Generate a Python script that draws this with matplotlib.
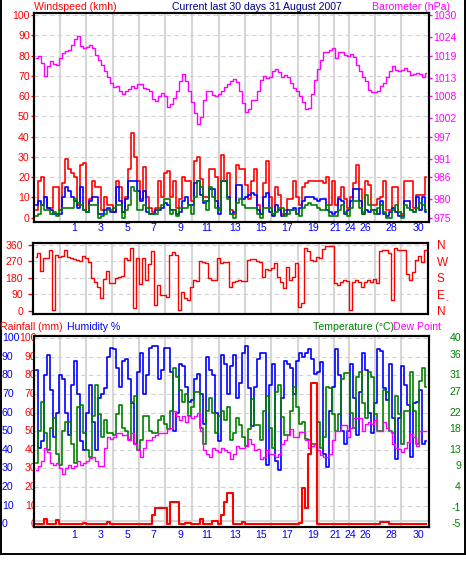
import numpy as np
import matplotlib.pyplot as plt
from matplotlib import transforms
from matplotlib.lines import Line2D

plt.rcParams['font.family'] = ['Liberation Sans', 'DejaVu Sans']
plt.rcParams['font.size'] = 7.6

RED, BLUE, GREEN, MAG, NAVY = '#ff0000', '#0000ff', '#008000', '#ff00ff', '#000080'

# ---- data (one sample every ~5.5 hours, 131 samples over the 30 days) ----
day_labels = ['1', '3', '5', '7', '9', '11', '13', '15', '17', '19', '21', '24', '26', '28', '30']
day_pos = [12.6, 21.5, 30.4, 39.2, 48.1, 56.9, 66.3, 75.0, 83.7, 92.5, 99.8, 104.8, 109.9, 118.6, 127.4]
grid_pos = [8.0, 16.6, 25.5, 34.2, 43.0, 51.9, 60.9, 69.6, 78.2, 87.2, 94.3, 99.3, 104.3, 113.0, 121.6]

wind_gust = [4, 18, 20, 10, 5, 5, 15, 15, 4, 17,
             29, 24, 22, 20, 6, 26, 27, 3, 9, 18,
             15, 15, 4, 10, 6, 6, 3, 18, 15, 3,
             10, 24, 42, 30, 18, 9, 25, 10, 5, 3,
             5, 18, 10, 22, 23, 10, 18, 5, 9, 20,
             18, 18, 8, 28, 30, 19, 10, 10, 24, 24,
             20, 5, 31, 18, 22, 4, 2, 26, 24, 24,
             16, 9, 18, 24, 6, 2, 17, 28, 10, 2,
             15, 11, 2, 4, 9, 9, 18, 10, 6, 15,
             17, 18, 18, 18, 18, 18, 17, 20, 6, 18,
             6, 10, 15, 9, 5, 10, 17, 26, 14, 3,
             18, 16, 6, 6, 9, 10, 18, 4, 4, 15,
             15, 3, 2, 18, 18, 18, 5, 11, 11, 11, 20]
wind_avg = [6, 8, 6, 10, 5, 4, 2, 2, 2, 10,
            15, 13, 10, 8, 5, 15, 4, 3, 8, 10,
            10, 2, 2, 4, 5, 3, 3, 15, 8, 3,
            9, 18, 18, 18, 13, 8, 13, 3, 2, 2,
            4, 4, 5, 7, 6, 4, 4, 2, 3, 8,
            10, 6, 6, 17, 18, 11, 7, 8, 14, 14,
            8, 2, 18, 18, 10, 2, 3, 16, 16, 9,
            10, 11, 12, 11, 4, 2, 10, 12, 3, 1,
            6, 4, 1, 2, 4, 4, 5, 2, 5, 8,
            10, 10, 10, 9, 8, 9, 9, 4, 3, 2,
            3, 9, 8, 2, 4, 8, 14, 14, 8, 2,
            4, 3, 4, 4, 2, 8, 2, 1, 3, 5,
            3, 1, 1, 8, 8, 4, 3, 10, 4, 10, 3]
wind_low = [1, 2, 6, 4, 4, 2, 3, 1, 4, 5,
            5, 5, 5, 9, 7, 6, 4, 3, 6, 6,
            6, 0, 1, 2, 4, 4, 5, 6, 6, 0,
            4, 6, 15, 13, 4, 4, 6, 5, 2, 2,
            2, 5, 6, 9, 9, 2, 4, 1, 5, 5,
            5, 6, 2, 10, 18, 15, 8, 4, 15, 10,
            5, 4, 18, 18, 9, 2, 0, 7, 9, 6,
            5, 5, 5, 5, 2, 0, 5, 5, 5, 2,
            3, 5, 5, 1, 2, 4, 4, 2, 1, 5,
            6, 7, 6, 6, 5, 4, 4, 6, 1, 1,
            1, 4, 6, 3, 1, 5, 8, 8, 5, 2,
            11, 6, 4, 2, 5, 6, 3, 0, 0, 4,
            6, 3, 0, 6, 5, 4, 3, 5, 7, 6, 4]
baro = [1018.3, 1018.8, 1017.0, 1013.5, 1016.2, 1017.6, 1016.8, 1016.5, 1018.3, 1019.8,
        1020.1, 1020.4, 1021.9, 1023.4, 1024.3, 1021.5, 1021.1, 1021.4, 1021.8, 1021.0,
        1019.2, 1017.8, 1016.3, 1014.7, 1013.1, 1011.5, 1010.4, 1010.6, 1009.3, 1008.5,
        1009.4, 1010.0, 1010.7, 1010.3, 1011.3, 1011.2, 1010.1, 1009.9, 1009.3, 1007.2,
        1006.6, 1008.1, 1008.7, 1007.9, 1005.1, 1005.8, 1007.4, 1009.5, 1012.2, 1014.0,
        1012.2, 1009.3, 1006.5, 1003.4, 1000.3, 1002.3, 1006.9, 1009.3, 1009.4, 1008.4,
        1008.0, 1008.6, 1009.4, 1010.4, 1011.4, 1012.2, 1012.6, 1011.7, 1009.5, 1006.1,
        1003.6, 1004.5, 1007.0, 1007.0, 1009.4, 1012.3, 1013.5, 1013.0, 1013.3, 1014.8,
        1015.3, 1014.4, 1013.2, 1013.8, 1013.1, 1011.5, 1010.3, 1009.5, 1008.1, 1006.3,
        1004.5, 1004.8, 1008.6, 1012.4, 1015.3, 1017.9, 1020.0, 1019.9, 1020.5, 1021.0,
        1018.2, 1020.0, 1019.9, 1019.1, 1019.0, 1019.3, 1018.7, 1016.3, 1014.7, 1013.1,
        1012.2, 1009.7, 1009.2, 1009.1, 1009.5, 1010.8, 1011.5, 1013.3, 1014.9, 1016.1,
        1015.2, 1014.9, 1015.0, 1015.6, 1014.9, 1013.6, 1013.9, 1014.2, 1014.1, 1013.1, 1014.2]
wind_dir = [293, 315, 220, 287, 287, 333, 5, 305, 296, 300,
            333, 296, 290, 285, 280, 275, 300, 287, 269, 178,
            160, 130, 69, 175, 220, 155, 151, 180, 187, 190,
            287, 280, 342, 15, 287, 147, 287, 169, 255, 329,
            33, 142, 87, 87, 78, 305, 320, 305, 5, 105,
            69, 60, 133, 169, 165, 275, 269, 260, 178, 169,
            170, 287, 260, 265, 269, 133, 160, 165, 169, 165,
            165, 278, 282, 285, 275, 265, 187, 230, 224, 235,
            260, 187, 160, 124, 240, 169, 187, 260, 24, 42,
            342, 325, 280, 275, 296, 290, 340, 355, 355, 355,
            151, 142, 160, 169, 165, 5, 160, 170, 160, 130,
            160, 169, 160, 172, 150, 325, 330, 333, 315, 60,
            342, 335, 330, 330, 200, 169, 215, 278, 300, 269, 333]
humidity = [83, 41, 45, 80, 91, 72, 47, 60, 80, 78,
            60, 48, 75, 88, 70, 45, 40, 60, 75, 55,
            40, 68, 70, 73, 90, 95, 94, 84, 74, 88,
            89, 78, 65, 43, 82, 92, 70, 80, 95, 96,
            96, 78, 83, 95, 95, 82, 50, 60, 86, 85,
            74, 66, 67, 78, 81, 70, 54, 90, 83, 80,
            60, 45, 91, 86, 70, 85, 91, 68, 76, 92,
            96, 73, 53, 74, 89, 92, 92, 32, 75, 86,
            34, 29, 68, 88, 86, 84, 70, 88, 92, 90,
            92, 94, 89, 81, 82, 87, 38, 31, 61, 74,
            94, 80, 50, 43, 50, 86, 68, 48, 71, 92,
            83, 60, 49, 65, 94, 93, 73, 67, 86, 57,
            35, 57, 85, 75, 64, 36, 65, 66, 72, 43, 45]
temperature = [9.9, 17.5, 24.7, 17.1, 13.0, 18.4, 20.7, 12.1, 9.4, 17.5,
               19.8, 19.8, 14.4, 9.9, 23.4, 23.8, 17.1, 13.0, 11.2, 21.1,
               28.8, 21.6, 16.2, 20.2, 17.1, 17.1, 16.6, 21.6, 23.8, 18.4,
               17.5, 15.3, 24.7, 26.1, 13.0, 15.3, 21.1, 21.1, 17.5, 17.1,
               17.1, 20.2, 21.1, 19.3, 18.0, 22.5, 32.8, 30.6, 27.4, 24.7,
               26.5, 21.1, 23.4, 27.0, 27.0, 18.4, 14.4, 22.5, 25.6, 22.0,
               17.1, 21.1, 22.5, 20.2, 23.4, 15.3, 17.1, 20.7, 18.9, 16.2,
               13.9, 18.0, 25.2, 18.9, 18.9, 15.3, 22.5, 26.1, 18.4, 13.5,
               27.0, 28.8, 20.9, 16.6, 16.6, 22.5, 28.3, 23.4, 19.3, 19.8,
               15.7, 15.3, 14.4, 14.4, 19.8, 13.5, 16.2, 28.3, 27.9, 21.6,
               17.5, 21.6, 30.1, 31.5, 31.5, 22.0, 18.4, 30.6, 31.9, 24.3,
               20.7, 31.9, 30.6, 21.6, 17.5, 17.5, 27.4, 27.0, 17.5, 17.1,
               26.1, 21.6, 14.4, 22.5, 22.5, 31.9, 22.5, 14.4, 29.7, 32.8, 28.3]
dew_point = [8.1, 9.0, 10.3, 13.5, 12.6, 9.9, 9.4, 9.9, 8.5, 7.2,
             8.5, 9.4, 8.5, 9.0, 10.3, 9.4, 9.9, 10.3, 11.0, 11.2,
             10.3, 9.0, 9.0, 13.5, 16.2, 15.7, 16.2, 17.1, 17.1, 16.6,
             16.6, 15.3, 17.1, 14.4, 13.0, 11.2, 13.5, 15.3, 15.3, 16.2,
             16.6, 17.1, 17.1, 17.1, 18.0, 18.4, 22.5, 21.1, 20.2, 21.1,
             19.8, 21.1, 20.7, 21.1, 22.0, 17.5, 13.0, 12.1, 11.2, 13.5,
             13.0, 12.6, 13.5, 13.0, 12.6, 10.8, 12.1, 13.9, 13.5, 13.5,
             13.9, 15.7, 14.4, 13.0, 13.2, 10.8, 11.2, 13.0, 12.1, 12.1,
             11.2, 12.1, 14.4, 15.3, 16.6, 18.0, 16.2, 16.2, 17.3, 17.3,
             15.3, 13.5, 13.9, 14.4, 13.0, 11.7, 11.2, 11.2, 12.1, 15.3,
             17.5, 17.5, 18.9, 18.9, 16.2, 18.4, 20.7, 20.7, 20.7, 17.5,
             19.3, 19.8, 19.3, 20.2, 17.5, 17.5, 19.8, 18.4, 17.5, 14.4,
             13.5, 13.2, 12.6, 13.5, 14.8, 16.8, 16.2, 14.0, 17.5, 17.5, 17.5]
rainfall = [0, 0, 0, 2.9, 0, 0, 0, 2.3, 0, 0,
            0, 0, 0, 0, 0, 0, 0.5, 0, 0, 0,
            0, 0, 0, 0, 1.2, 0, 0, 0, 0, 0,
            0, 0, 0, 0, 0, 0, 0, 0, 0, 5,
            8.6, 8.6, 8.6, 8.6, 0, 12, 12, 12, 0.4, 0.4,
            0.5, 0.5, 0, 0, 0, 2.7, 0, 0, 0, 1.8,
            1.8, 0, 5, 12, 17, 17, 0, 0, 0, 1.5,
            0, 0, 0, 0, 0, 0, 0, 0, 0, 0,
            0, 0, 0, 0, 0, 0, 0, 0, 0.5, 19.6,
            9, 38, 76, 76, 0, 0, 0, 0, 0, 0,
            0, 0, 0, 0, 0, 0, 0, 0, 0, 0,
            0, 0, 0, 0, 0, 1, 1, 1, 0, 0,
            0, 0, 0, 0, 0, 0, 0, 0, 0, 0, 0]

baro_ticks = [975, 980, 986, 991, 997, 1002, 1008, 1013, 1019, 1024, 1030]
temp_ticks = [-5, -1, 4, 9, 13, 18, 22, 27, 31, 36, 40]
dir_ticks = [0, 90, 180, 270, 360]
dir_names = ['N', 'E', 'S', 'W', 'N']

# ---- layout in pixels ----
W, H = 466, 563
fig = plt.figure(figsize=(W / 100, H / 100), dpi=100)
fig.patch.set_facecolor('white')


def box(l, t, r, b):
    return [l / W, 1 - b / H, (r - l) / W, (b - t) / H]


def frame(ax, hlines):
    for s in ax.spines.values():
        s.set_color('black')
        s.set_linewidth(1.5)
    for g in grid_pos:
        ax.axvline(g, color='#d6d6d6', lw=1.5, zorder=0.5)
    for h in hlines:
        ax.axhline(h, color='#d2d2d2', lw=0.8, ls=(0, (4, 3)), zorder=0.5)


def ptext(x, y, s, color, ha='left', **kw):
    fig.text(x / W, 1 - y / H, s, color=color, ha=ha, va='center', **kw)


x = np.arange(len(wind_gust))

# ---- wind speed / barometer ----
ax1 = fig.add_axes(box(34, 13, 429, 221.7))
ax1.set_xlim(-0.67, 131)
ax1.set_ylim(-2, 101)
frame(ax1, range(10, 101, 10))
ax1.step(x, wind_gust, where='mid', color=RED, lw=1.2)
ax1.step(x, wind_avg, where='mid', color=BLUE, lw=1.2)
ax1.step(x, wind_low, where='mid', color=GREEN, lw=1.2)
ax1.set_yticks(range(0, 101, 10))
ax1.tick_params(axis='y', colors=RED, length=2.5, width=1, pad=0.6)
ax1.set_xticks(day_pos, day_labels)
ax1.tick_params(axis='x', colors=BLUE, length=0, pad=1.2)

ax1b = ax1.twinx()
ax1b.set_ylim(975 - 0.55 * 2, 975 + 0.55 * 101)
ax1b.step(x, baro, where='mid', color=MAG, lw=1.0)
ax1b.set_yticks(baro_ticks, [str(t) for t in baro_ticks])
ax1b.tick_params(axis='y', colors=MAG, length=2.5, width=1, pad=0.6)
for s in ax1b.spines.values():
    s.set_linewidth(1.5)

# ---- wind direction ----
ax2 = fig.add_axes(box(33.3, 243.3, 427.7, 314.3))
ax2.set_xlim(-0.9, 130.6)
ax2.set_ylim(-18, 369)
frame(ax2, [90, 180, 270, 360])
ax2.step(x, wind_dir, where='mid', color=RED, lw=1.0)
ax2.set_xticks([])
ax2.set_yticks(dir_ticks)
ax2.tick_params(axis='y', colors=RED, length=3.5, width=1, pad=3.8)
ax2b = ax2.twinx()
ax2b.set_ylim(-18, 369)
ax2b.set_yticks(dir_ticks, dir_names)
ax2b.tick_params(axis='y', colors=RED, length=0, pad=6.5, labelsize=8.5)
for s in ax2b.spines.values():
    s.set_linewidth(1.5)
ptext(446, 300.5, '-', RED, fontsize=6)

# ---- humidity / rain / temperature / dew point ----
ax3 = fig.add_axes(box(34, 336, 429, 527.3))
ax3.set_xlim(-0.67, 131)
ax3.set_ylim(-1.6, 101.2)
frame(ax3, range(10, 101, 10))
ax3.axhline(2, color='#d6d6d6', lw=1.5, zorder=0.5)
ax3.step(x, humidity, where='mid', color=BLUE, lw=1.2)
ax3.set_yticks([])
ax3.set_xticks(day_pos, day_labels)
ax3.tick_params(axis='x', colors=BLUE, length=0, pad=1.6)

ax3b = ax3.twinx()
ax3b.set_ylim(-5 - 0.45 * 1.6, -5 + 0.45 * 101.2)
ax3b.step(x, temperature, where='mid', color=GREEN, lw=1.2)
ax3b.step(x, dew_point, where='mid', color=MAG, lw=1.0)
ax3b.step(x, rainfall, where='mid', color=RED, lw=1.5, transform=ax3.transData)
ax3b.set_yticks([])
for s in ax3b.spines.values():
    s.set_linewidth(1.5)

lab_l = transforms.blended_transform_factory(fig.transFigure, ax3.transData)
lab_r = transforms.blended_transform_factory(fig.transFigure, ax3b.transData)
for v in range(0, 101, 10):
    fig.text(2 / W, v, str(v), color=BLUE, ha='left', va='center', transform=lab_l)
    fig.text(36.5 / W, v, str(v), color=RED, ha='right', va='center',
             transform=lab_l, zorder=-1)
for t in temp_ticks:
    fig.text(461 / W, t, str(t), color=GREEN, ha='right', va='center', transform=lab_r)

# ---- headings ----
ptext(34, 6.5, 'Windspeed (kmh)', RED)
ptext(257, 6.5, 'Current last 30 days 31 August 2007', NAVY, ha='center')
ptext(372, 6.5, 'Barometer (hPa)', MAG)
ptext(0.5, 327, 'Rainfall (mm)', RED)
ptext(67, 327, 'Humidity %', BLUE)
ptext(313, 327, 'Temperature (\u00b0C)', GREEN)
ptext(393, 327, 'Dew Point', MAG)

# outer border
for xs, ys in [([0.8, 0.8], [0, 554]), ([464.5, 464.5], [0, 554]), ([0, 465], [554, 554])]:
    fig.add_artist(Line2D([p / W for p in xs], [1 - p / H for p in ys],
                          color='black', lw=1.4))

plt.savefig('out.png', dpi=100)
